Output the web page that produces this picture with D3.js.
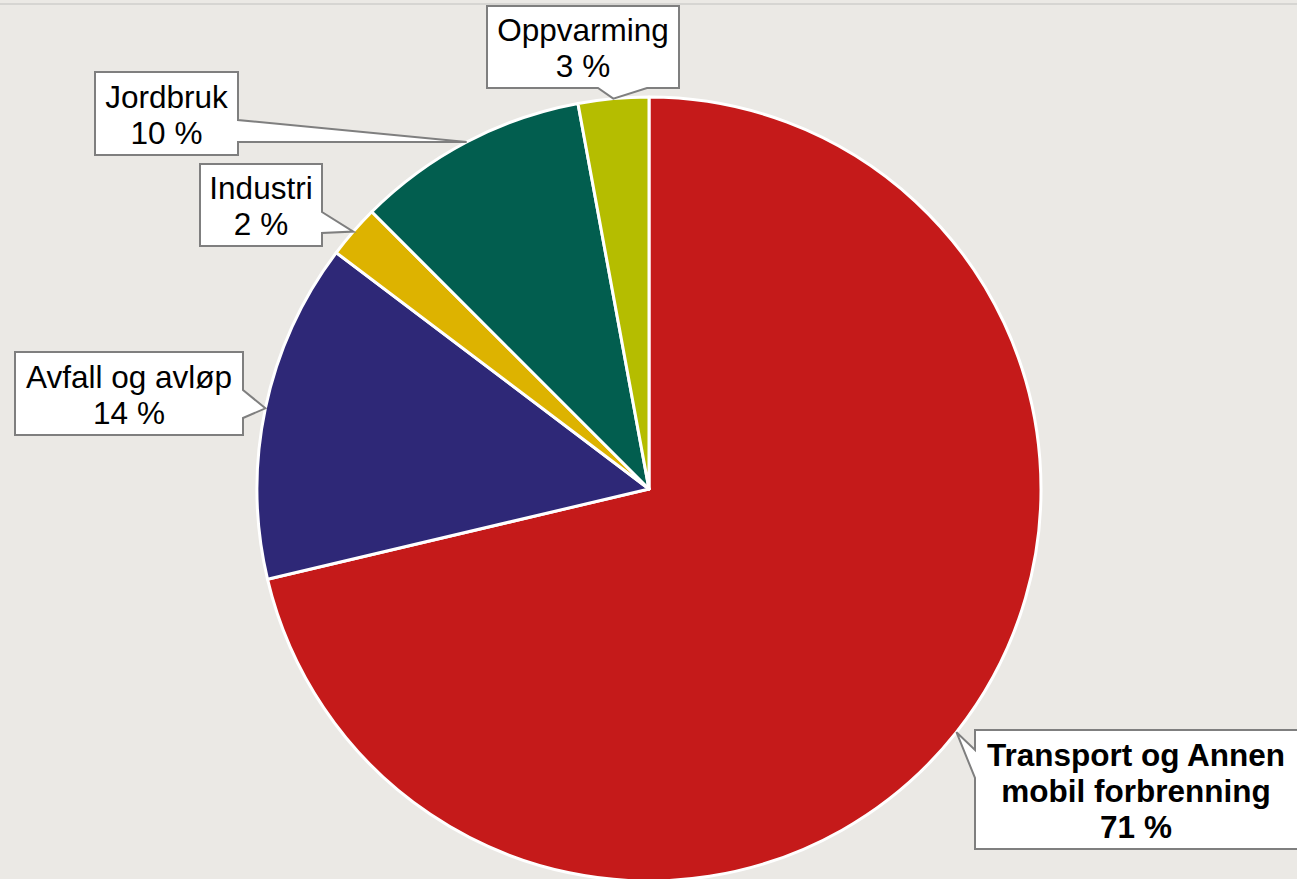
<!DOCTYPE html>
<meta charset="utf-8">
<style>

body {
  margin: 0;
  background: #ebe9e5;
}

svg {
  display: block;
  font-family: "Liberation Sans", Arial, sans-serif;
}

</style>
<svg width="1297" height="879"></svg>
<script src="https://d3js.org/d3.v7.min.js"></script>
<script>

var categories = ["Transport og Annen\nmobil forbrenning", "Avfall og avløp", "Industri", "Jordbruk", "Oppvarming"],
    values = [71.3, 14.0, 2.2, 9.6, 2.9],
    colors = ["#c51a1a", "#2e2877", "#ddb300", "#025e4f", "#b5bd00"],
    bold = [true, false, false, false, false];

// callout boxes: x, y, w, h, side the pointer leaves from, and its base span on that side
var callouts = [
  {x: 975, y: 730, w: 340, h: 119, side: "left", b0: 750, b1: 778},
  {x: 15, y: 352, w: 228, h: 83, side: "right", b0: 390, b1: 418},
  {x: 200, y: 164, w: 122, h: 82, side: "right", b0: 212, b1: 233},
  {x: 95, y: 72, w: 143, h: 83, side: "right", b0: 120, b1: 142},
  {x: 487, y: 6, w: 192, h: 82, side: "bottom", b0: 598, b1: 647}
];

</script>
<script>

var svg = d3.select("svg"),
    cx = 649,
    cy = 489,
    radius = 392;

svg.append("line")
    .attr("x1", 0)
    .attr("x2", 1297)
    .attr("y1", 4)
    .attr("y2", 4)
    .attr("stroke", "#d6d5d2")
    .attr("stroke-width", 2);

var pie = d3.pie().sort(null).value(function(d) { return d; }),
    arcs = pie(values),
    arc = d3.arc().innerRadius(0).outerRadius(radius),
    rim = d3.arc().innerRadius(radius).outerRadius(radius);

var g = svg.append("g")
    .attr("transform", "translate(" + cx + "," + cy + ")");

g.selectAll("path")
  .data(arcs)
  .enter().append("path")
    .attr("fill", function(d, i) { return colors[i]; })
    .attr("stroke", "#fff")
    .attr("stroke-width", 3)
    .attr("stroke-linejoin", "round")
    .attr("d", arc);

function calloutPath(c, tip) {
  var x = c.x, y = c.y, r = c.x + c.w, b = c.y + c.h,
      t = [tip[0] + cx, tip[1] + cy],
      p = d3.path();
  p.moveTo(x, y);
  if (c.side == "top") { p.lineTo(c.b0, y); p.lineTo(t[0], t[1]); p.lineTo(c.b1, y); }
  p.lineTo(r, y);
  if (c.side == "right") { p.lineTo(r, c.b0); p.lineTo(t[0], t[1]); p.lineTo(r, c.b1); }
  p.lineTo(r, b);
  if (c.side == "bottom") { p.lineTo(c.b1, b); p.lineTo(t[0], t[1]); p.lineTo(c.b0, b); }
  p.lineTo(x, b);
  if (c.side == "left") { p.lineTo(x, c.b1); p.lineTo(t[0], t[1]); p.lineTo(x, c.b0); }
  p.closePath();
  return p.toString();
}

var label = svg.selectAll(".label")
  .data(arcs)
  .enter().append("g")
    .attr("class", "label");

label.append("path")
    .attr("fill", "#fff")
    .attr("stroke", "#7f7f7f")
    .attr("stroke-width", 2)
    .attr("d", function(d, i) { return calloutPath(callouts[i], rim.centroid(d)); });

label.append("text")
    .attr("text-anchor", "middle")
    .attr("font-size", 31.5)
    .attr("font-weight", function(d, i) { return bold[i] ? "bold" : "normal"; })
    .attr("fill", "#000")
    .each(function(d, i) {
      var c = callouts[i],
          lines = categories[i].split("\n").concat([Math.round(values[i]) + " %"]),
          lh = 36,
          mid = c.y + c.h / 2,
          xm = c.x + (i == 0 ? 161 : c.w / 2);
      d3.select(this).selectAll("tspan")
        .data(lines)
        .enter().append("tspan")
          .attr("x", xm)
          .attr("y", function(l, j) { return mid + (j - (lines.length - 1) / 2) * lh + 12; })
          .text(function(l) { return l; });
    });

</script>
